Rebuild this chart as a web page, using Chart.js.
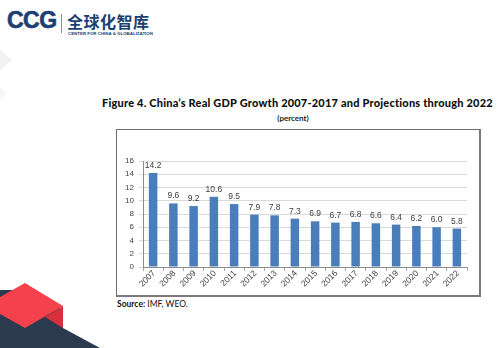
<!DOCTYPE html>
<html>
<head>
<meta charset="utf-8">
<script src="https://cdn.jsdelivr.net/npm/chart.js@4.4.0/dist/chart.umd.min.js"></script>
<style>
  html, body { margin:0; padding:0; background:#ffffff; }
  #page { position:relative; width:500px; height:348px; overflow:hidden; background:#fff; font-family:"Liberation Sans", Arial, sans-serif; }
  #logo-ccg { position:absolute; left:7px; top:9px; font-family:"Liberation Sans", Arial, sans-serif; font-weight:bold; font-size:23px; letter-spacing:-0.5px; color:#1b3f73; line-height:23px; -webkit-text-stroke:0.6px #1b3f73; }
  #logo-sep { position:absolute; left:61px; top:14px; width:1px; height:19px; background:#8a8f99; }
  #logo-cn { position:absolute; left:67px; top:12px; font-family:"Noto Sans CJK SC", sans-serif; font-weight:bold; font-size:16px; letter-spacing:0.5px; color:#1b3f73; line-height:18px; }
  #logo-en { position:absolute; left:68px; top:31px; font-family:"Liberation Sans", Arial, sans-serif; font-weight:bold; font-size:4.4px; color:#1b3f73; white-space:nowrap; line-height:5px; }
  #title { position:absolute; left:102px; top:96px; font-family:"Lato", sans-serif; font-weight:900; font-size:11px; color:#111; white-space:nowrap; line-height:14px; }
  #subtitle { position:absolute; left:243px; top:113px; width:100px; text-align:center; font-family:"Lato", sans-serif; font-weight:bold; font-size:8px; color:#222; line-height:11px; }
  #box { position:absolute; left:116px; top:129px; width:362px; height:165px; border:1px solid #6e6e6e; border-right:2px solid #7a7a7a; border-bottom:2px solid #7a7a7a; }
  #cv { position:absolute; left:117px; top:130px; }
  #source { position:absolute; left:117px; top:299px; font-family:"Lato", sans-serif; font-size:8.5px; color:#111; line-height:11px; }
  svg.deco { position:absolute; left:0; top:0; }
</style>
</head>
<body>
<div id="page">
  <svg class="deco" width="500" height="348" viewBox="0 0 500 348">
    <polygon points="0,50 12,60 0,70" fill="#f1f2f4"/>
    <polygon points="0,86 6,93 0,100" fill="#f6f7f8"/>
    <polygon points="0,290 15,290 63,310 63,328 100,348 0,348" fill="#2b3a4e"/>
    <polygon points="0,297 25,283 63,306 25,328 0,314" fill="#f5414b"/>
    <polygon points="45,317 63,306 63,328" fill="#d6323b"/>
  </svg>
  <div id="logo-ccg">CCG</div>
  <div id="logo-sep"></div>
  <div id="logo-cn">全球化智库</div>
  <div id="logo-en">CENTER FOR CHINA &amp; GLOBALIZATION</div>
  <div id="title">Figure 4. China’s Real GDP Growth 2007-2017 and Projections through 2022</div>
  <div id="subtitle">(percent)</div>
  <div id="box"></div>
  <canvas id="cv" width="362" height="165"></canvas>
  <div id="source"><b>Source:</b> IMF, WEO.</div>
</div>
<script>
const years = ["2007","2008","2009","2010","2011","2012","2013","2014","2015","2016","2017","2018","2019","2020","2021","2022"];
const gdpGrowth = [14.2, 9.6, 9.2, 10.6, 9.5, 7.9, 7.8, 7.3, 6.9, 6.7, 6.8, 6.6, 6.4, 6.2, 6.0, 5.8];
const yTicks = [0, 2, 4, 6, 8, 10, 12, 14, 16];

// fit title to reference width
(function fitText(id, target) {
  const el = document.getElementById(id);
  const w = el.getBoundingClientRect().width;
  const n = el.textContent.length;
  el.style.letterSpacing = ((target - w) / n) + 'px';
})('title', 391);

const FONT = '"Liberation Sans", Arial, sans-serif';

const valueLabels = {
  id: 'valueLabels',
  afterDatasetsDraw(chart) {
    const ctx = chart.ctx;
    const meta = chart.getDatasetMeta(0);
    ctx.save();
    ctx.font = '8.5px ' + FONT;
    ctx.fillStyle = '#404040';
    ctx.textAlign = 'center';
    ctx.textBaseline = 'bottom';
    meta.data.forEach((bar, i) => {
      ctx.fillText(gdpGrowth[i].toFixed(1), bar.x, bar.y - 3);
    });
    ctx.restore();
  }
};

// category labels slanted at 45 degrees, placed at the scale's own tick positions
const slantedLabels = {
  id: 'slantedLabels',
  afterDraw(chart) {
    const ctx = chart.ctx;
    const xs = chart.scales.x;
    ctx.save();
    ctx.font = '8.5px ' + FONT;
    ctx.fillStyle = '#404040';
    ctx.textAlign = 'right';
    ctx.textBaseline = 'middle';
    years.forEach((lab, i) => {
      const x = xs.getPixelForTick(i);
      ctx.save();
      ctx.translate(x + 1, xs.top + 5);
      ctx.rotate(-Math.PI / 4);
      ctx.fillText(lab, 0, 0);
      ctx.restore();
    });
    ctx.restore();
  }
};

new Chart(document.getElementById('cv'), {
  type: 'bar',
  data: {
    labels: years,
    datasets: [{
      data: gdpGrowth,
      backgroundColor: '#4a7ebb',
      borderWidth: 0,
      barPercentage: 0.42,
      categoryPercentage: 1.0
    }]
  },
  options: {
    responsive: false,
    devicePixelRatio: 1,
    animation: false,
    layout: { padding: { left: 0, right: 12, top: 31, bottom: 0 } },
    plugins: { legend: { display: false }, tooltip: { enabled: false } },
    scales: {
      y: {
        min: 0, max: 16,
        afterBuildTicks: (s) => { s.ticks = yTicks.map(v => ({ value: v })); },
        afterFit: (s) => { s.width = 26; },
        ticks: { font: { size: 8, family: FONT }, color: '#404040', padding: 5 },
        grid: { color: '#d9d9d9', tickLength: 4 },
        border: { display: true, color: '#8c8c8c' }
      },
      x: {
        afterFit: (s) => { s.height = 28; },
        ticks: { display: false },
        grid: { drawOnChartArea: false, drawTicks: true, tickLength: 4, color: '#a6a6a6', offset: true },
        border: { display: true, color: '#8c8c8c' }
      }
    }
  },
  plugins: [valueLabels, slantedLabels]
});
</script>
</body>
</html>
